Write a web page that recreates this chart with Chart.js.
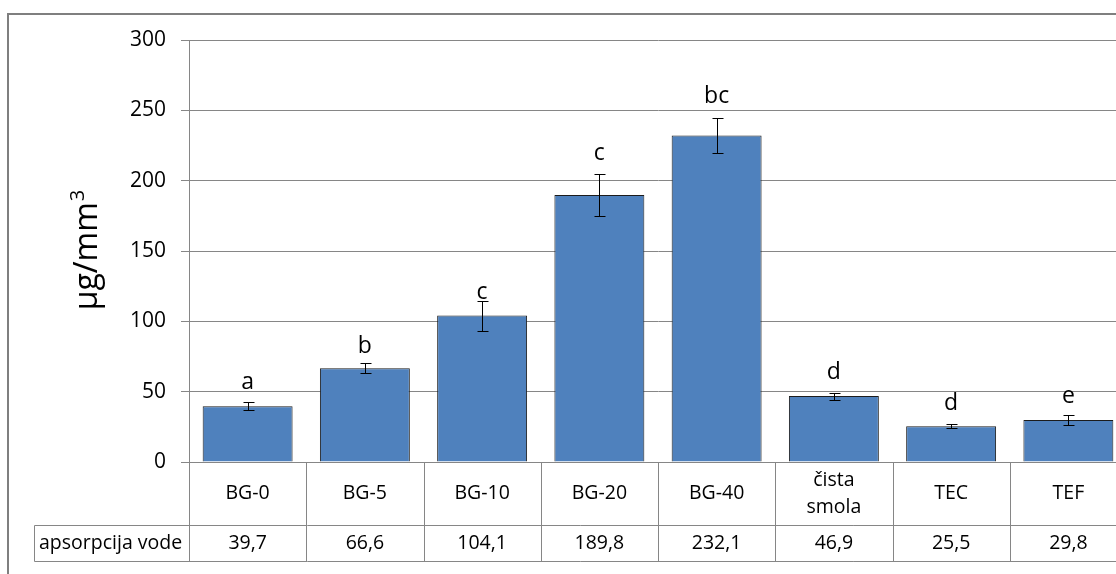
<!DOCTYPE html>
<html>
<head>
<meta charset="utf-8">
<script src="https://cdn.jsdelivr.net/npm/chart.js@4.4.1/dist/chart.umd.min.js"></script>
<style>
html,body{margin:0;padding:0;overflow:hidden;background:#fff;width:1116px;height:574px;}
#wrap{position:absolute;left:0;top:0;width:1140px;height:574px;}
</style>
</head>
<body>
<div id="wrap"><canvas id="c" width="1140" height="574"></canvas></div>
<script>
const categories = ['BG-0', 'BG-5', 'BG-10', 'BG-20', 'BG-40', ['čista', 'smola'], 'TEC', 'TEF'];
const values = [39.7, 66.6, 104.1, 189.8, 232.1, 46.9, 25.5, 29.8];
const errors = [3.0, 3.5, 10.7, 15.0, 12.5, 2.5, 1.5, 3.8];
const letters = ['a', 'b', 'c', 'c', 'bc', 'd', 'd', 'e'];
const letterAt = [51.9, 77.5, 115.9, 214.7, 255.4, 59.0, 37.0, 41.9];
const rowLabel = 'apsorpcija vode';
const yTicks = [0, 50, 100, 150, 200, 250, 300];
const yTitle = 'μg/mm';
const yTitleSup = '3';

const FONT = '"Open Sans", "Liberation Sans", sans-serif';
const GRID = '#868686';

const extras = {
  id: 'extras',
  afterDatasetsDraw(chart) {
    const ctx = chart.ctx;
    const x = chart.scales.x, y = chart.scales.y;
    ctx.save();
    // error bars
    ctx.strokeStyle = '#000';
    ctx.lineWidth = 1;
    values.forEach((v, i) => {
      const px = Math.round(x.getPixelForValue(i)) + 0.5;
      const t = Math.round(y.getPixelForValue(v + errors[i])) + 0.5;
      const b = Math.round(y.getPixelForValue(v - errors[i])) + 0.5;
      ctx.beginPath();
      ctx.moveTo(px, t); ctx.lineTo(px, b);
      ctx.moveTo(px - 5, t); ctx.lineTo(px + 6, t);
      ctx.moveTo(px - 5, b); ctx.lineTo(px + 6, b);
      ctx.stroke();
    });
    // letters
    ctx.fillStyle = '#000';
    ctx.font = '23px ' + FONT;
    ctx.textAlign = 'center';
    ctx.textBaseline = 'alphabetic';
    letters.forEach((l, i) => {
      ctx.fillText(l, x.getPixelForValue(i), y.getPixelForValue(letterAt[i]));
    });
    ctx.restore();
  },
  afterDraw(chart) {
    const ctx = chart.ctx;
    const x = chart.scales.x;
    const area = chart.chartArea;
    const left = area.left, right = area.right, bottom = area.bottom;
    const n = categories.length;
    const cw = (right - left) / n;
    const rowTop = 525.5, rowBottom = 561.5, tableLeft = 34.5;
    ctx.save();
    ctx.strokeStyle = GRID;
    ctx.lineWidth = 1;
    ctx.beginPath();
    for (let i = 0; i <= n; i++) {
      const px = Math.round(left + i * cw) + 0.5;
      ctx.moveTo(px, bottom); ctx.lineTo(px, rowBottom);
    }
    ctx.moveTo(tableLeft, rowTop); ctx.lineTo(right, rowTop);
    ctx.moveTo(tableLeft, rowBottom); ctx.lineTo(right, rowBottom);
    ctx.moveTo(tableLeft, rowTop); ctx.lineTo(tableLeft, rowBottom);
    ctx.stroke();

    // category labels
    ctx.fillStyle = '#000';
    ctx.font = '19.5px ' + FONT;
    ctx.textAlign = 'center';
    ctx.textBaseline = 'middle';
    const catMid = (bottom + rowTop) / 2;
    categories.forEach((c, i) => {
      const px = x.getPixelForValue(i);
      const lines = Array.isArray(c) ? c : [c];
      const lh = 27;
      lines.forEach((ln, k) => {
        ctx.fillText(ln, px, catMid + (k - (lines.length - 1) / 2) * lh);
      });
    });
    // data row
    const rowMid = (rowTop + rowBottom) / 2;
    values.forEach((v, i) => {
      ctx.fillText(v.toFixed(1).replace('.', ','), x.getPixelForValue(i), rowMid);
    });
    ctx.textAlign = 'left';
    ctx.fillText(rowLabel, 39, rowMid);

    // y title (rotated) with superscript
    ctx.translate(97, 250);
    ctx.rotate(-Math.PI / 2);
    ctx.font = '32px ' + FONT;
    const w1 = ctx.measureText(yTitle).width;
    ctx.font = '20px ' + FONT;
    const w2 = ctx.measureText(yTitleSup).width;
    const total = w1 + w2 + 1;
    ctx.textBaseline = 'alphabetic';
    ctx.textAlign = 'left';
    ctx.font = '32px ' + FONT;
    ctx.fillText(yTitle, -total / 2, 0);
    ctx.font = '20px ' + FONT;
    ctx.fillText(yTitleSup, -total / 2 + w1 + 1, -13);
    ctx.setTransform(1, 0, 0, 1, 0, 0);

    // outer chart border
    ctx.strokeStyle = '#7f7f7f';
    ctx.lineWidth = 2;
    ctx.strokeRect(8, 14, 1300, 700);
    ctx.restore();
  }
};

new Chart(document.getElementById('c'), {
  type: 'bar',
  data: {
    labels: categories.map(c => Array.isArray(c) ? c.join(' ') : c),
    datasets: [{
      data: values,
      backgroundColor: '#4F81BD',
      borderColor: '#1c1c1c',
      borderWidth: 1,
      barPercentage: 0.767,
      categoryPercentage: 1.0
    }]
  },
  options: {
    responsive: false,
    animation: false,
    devicePixelRatio: 1,
    layout: { padding: { left: 0, top: 40, right: 13, bottom: 112 } },
    plugins: { legend: { display: false }, tooltip: { enabled: false } },
    scales: {
      x: { display: false, offset: true },
      y: {
        min: 0, max: 300,
        afterFit(s) { s.width = 189; },
        afterBuildTicks(s) { s.ticks = yTicks.map(v => ({ value: v })); },
        ticks: { color: '#000', font: { family: FONT, size: 21 }, padding: 15 },
        grid: { color: GRID, tickLength: 8, lineWidth: 1 },
        border: { color: GRID, width: 1 }
      }
    }
  },
  plugins: [extras]
});
</script>
</body>
</html>
